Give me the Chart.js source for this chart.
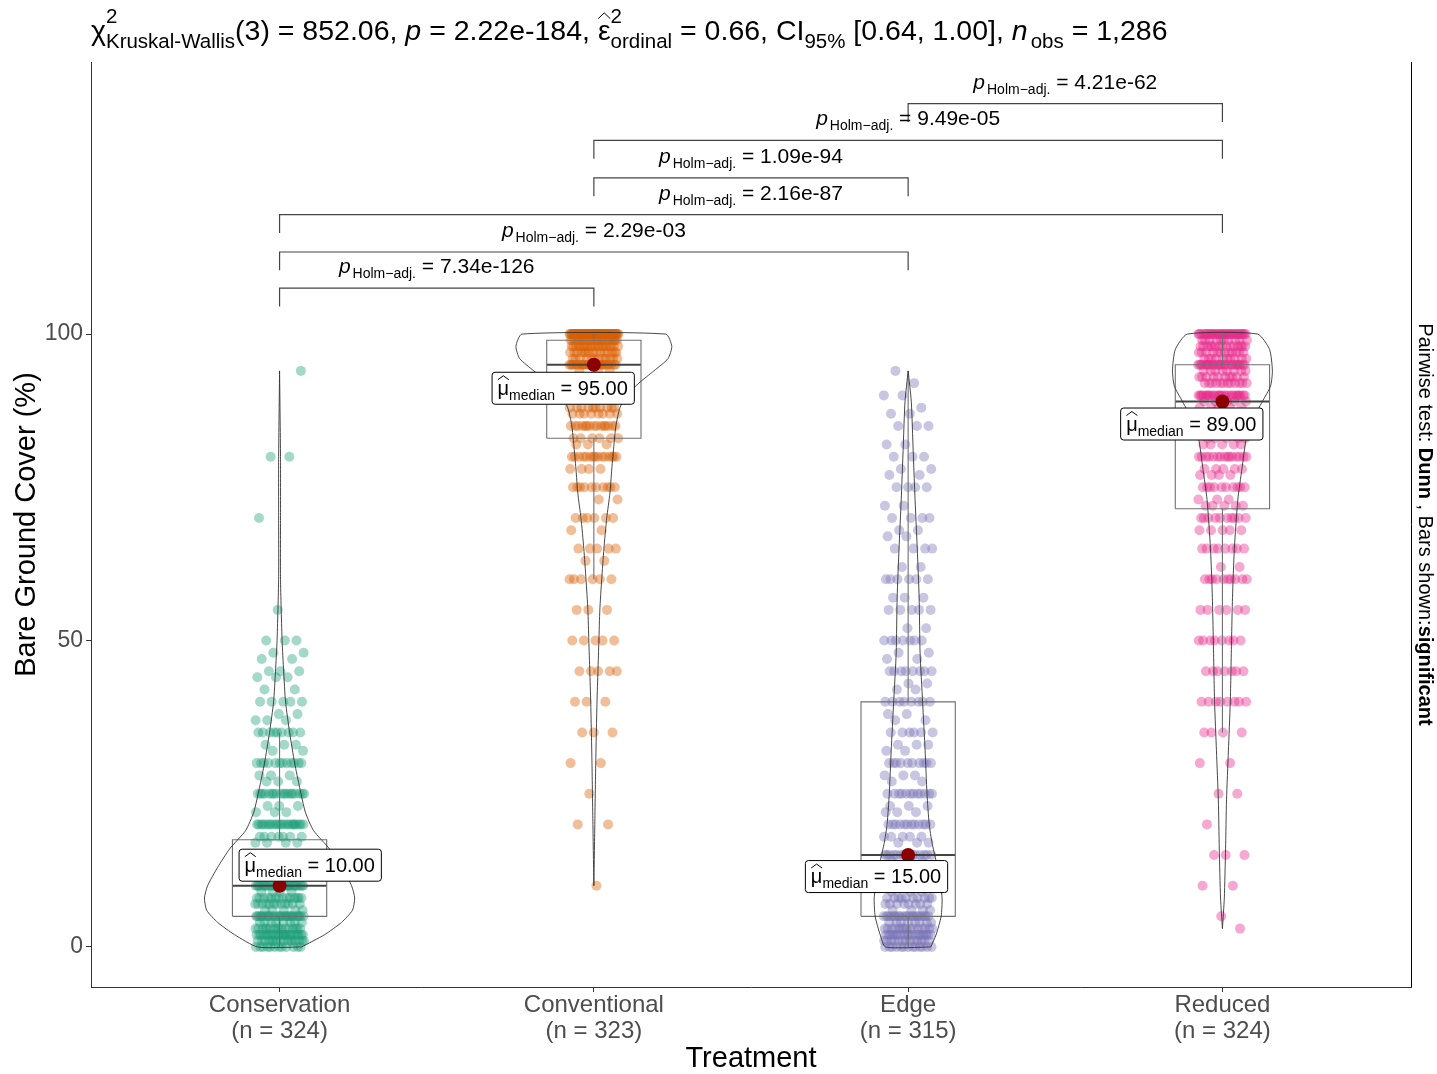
<!DOCTYPE html>
<html>
<head>
<meta charset="utf-8">
<script src="https://cdn.jsdelivr.net/npm/chart.js@4.4.0/dist/chart.umd.min.js"></script>
<style>
  html, body { margin: 0; padding: 0; background: #fff; }
  #wrap { width: 1437px; height: 1074px; }
</style>
</head>
<body>
<div id="wrap"><canvas id="c" width="1437" height="1074"></canvas></div>
<script>
// ---- data ----
const GROUPS  = ['Conservation', 'Conventional', 'Edge', 'Reduced'];
const GROUP_N = [324, 323, 315, 324];
const Y_TICKS = [0, 50, 100];

// observed values and how many points sit on each row
const consVals   = [0, 1, 2, 3, 4, 5, 6, 7, 8, 9, 10, 12, 13, 15, 17, 18, 20, 22, 23, 25, 27, 28, 30, 32, 33, 35, 37, 38, 40, 42, 44, 45, 47, 48, 50, 55, 70, 80, 94];
const consCounts = [12, 16, 22, 16, 8, 28, 5, 12, 14, 4, 28, 14, 4, 22, 4, 7, 22, 3, 3, 18, 3, 3, 12, 2, 3, 9, 3, 2, 5, 2, 3, 3, 2, 2, 3, 1, 1, 2, 1];

const convVals   = [10, 20, 25, 30, 35, 40, 45, 50, 55, 60, 63, 65, 68, 70, 73, 75, 78, 80, 82, 83, 85, 87, 88, 90, 92, 93, 94, 95, 96, 97, 98, 99, 100];
const convCounts = [1, 2, 1, 2, 3, 3, 5, 5, 3, 6, 2, 5, 2, 6, 2, 10, 4, 15, 3, 6, 15, 8, 10, 20, 10, 8, 3, 25, 12, 15, 20, 22, 69];

const edgeVals   = [0, 1, 2, 3, 4, 5, 6, 7, 8, 9, 10, 12, 13, 14, 15, 17, 18, 20, 22, 23, 25, 27, 28, 30, 32, 33, 35, 37, 38, 40, 42, 43, 45, 47, 48, 50, 52, 55, 57, 60, 62, 65, 67, 68, 70, 72, 75, 77, 78, 80, 82, 85, 87, 88, 90, 92, 94];
const edgeCounts = [13, 13, 18, 15, 8, 20, 4, 8, 10, 3, 19, 8, 4, 3, 15, 3, 5, 12, 3, 3, 12, 2, 3, 10, 2, 3, 6, 2, 2, 8, 2, 2, 8, 2, 2, 7, 2, 5, 3, 6, 2, 4, 2, 2, 4, 2, 4, 2, 2, 3, 2, 3, 2, 1, 2, 1, 1];

const redVals    = [3, 5, 10, 15, 20, 25, 30, 35, 40, 45, 50, 55, 60, 62, 65, 68, 70, 72, 73, 75, 77, 78, 80, 82, 83, 85, 87, 88, 89, 90, 92, 93, 94, 95, 96, 97, 98, 99, 100];
const redCounts  = [1, 1, 2, 3, 1, 2, 2, 4, 8, 7, 8, 6, 10, 2, 8, 5, 10, 5, 3, 10, 4, 5, 15, 5, 5, 15, 6, 6, 5, 25, 12, 10, 8, 25, 10, 12, 15, 10, 33];

// box plot statistics
const boxQ1       = [5, 83, 5, 71.5];
const boxMedian   = [10, 95, 15, 89];
const boxQ3       = [17.5, 99, 40, 95];
const whiskerLow  = [0, 60, 0, 35];
const whiskerHigh = [35, 100, 94, 100];

// violin outlines: y level and half width (category units)
const consViolinY = [0, 2, 4, 6, 8, 10, 13, 16, 19, 22, 26, 30, 35, 40, 45, 50, 60, 70, 80, 94];
const consViolinW = [0.07, 0.143, 0.197, 0.232, 0.239, 0.229, 0.197, 0.159, 0.108, 0.082, 0.064, 0.048, 0.032, 0.019, 0.013, 0.008, 0.003, 0.003, 0.003, 0];
const convViolinY = [10, 20, 30, 40, 45, 50, 55, 60, 65, 70, 74, 78, 82, 85, 88, 90, 92, 94, 96, 98, 100];
const convViolinW = [0, 0.003, 0.006, 0.01, 0.013, 0.016, 0.019, 0.025, 0.032, 0.041, 0.051, 0.057, 0.064, 0.07, 0.083, 0.105, 0.143, 0.191, 0.236, 0.248, 0.229];
const edgeViolinY = [0, 2, 5, 8, 11, 14, 17, 20, 25, 32, 40, 48, 57, 65, 73, 81, 89, 94];
const edgeViolinW = [0.072, 0.089, 0.105, 0.108, 0.1, 0.089, 0.076, 0.067, 0.06, 0.054, 0.046, 0.038, 0.035, 0.029, 0.022, 0.016, 0.01, 0];
const redViolinY  = [3, 8, 16, 24, 32, 40, 50, 57, 65, 73, 78, 83, 86, 89, 91.5, 94, 97.5, 100];
const redViolinW  = [0, 0.006, 0.01, 0.013, 0.019, 0.025, 0.029, 0.032, 0.038, 0.049, 0.062, 0.076, 0.096, 0.127, 0.153, 0.159, 0.15, 0.112];

// pairwise comparisons (Dunn, Holm-adjusted)
const pairFrom = [1, 1, 1, 2, 2, 3];
const pairTo   = [2, 3, 4, 3, 4, 4];
const pairY    = [107.5, 113.4, 119.5, 125.5, 131.6, 137.6];
const pairP    = ['7.34e-126', '2.29e-03', '2.16e-87', '1.09e-94', '9.49e-05', '4.21e-62'];

// ---- drawing ----
const FONT = '"Liberation Sans", Arial, Helvetica, sans-serif';
const COLORS = ['27,158,119', '217,95,2', '117,112,179', '231,41,138'];
const JITTER = 0.078;
const BOX_HW = 0.15;
const TIP = 3;

const groupVals   = [consVals, convVals, edgeVals, redVals];
const groupCounts = [consCounts, convCounts, edgeCounts, redCounts];
const violinY     = [consViolinY, convViolinY, edgeViolinY, redViolinY];
const violinW     = [consViolinW, convViolinW, edgeViolinW, redViolinW];

function lineSet(points, color, width, order, tension) {
  return {
    data: points, showLine: true, borderColor: color, borderWidth: width,
    pointRadius: 0, fill: false, tension: tension || 0, order: order
  };
}

const datasets = [];
let k = 0;
groupVals.forEach((vals, g) => {
  const pts = [];
  vals.forEach((v, i) => {
    for (let j = 0; j < groupCounts[g][i]; j++) {
      const off = ((k++ * 0.6180339887 + 0.31) % 1) * 2 - 1;
      pts.push({ x: g + 1 + off * JITTER, y: v });
    }
  });
  datasets.push({
    data: pts, backgroundColor: 'rgba(' + COLORS[g] + ',0.4)',
    borderWidth: 0, pointRadius: 5, order: 10
  });
});

// boxes + whiskers
GROUPS.forEach((_, g) => {
  const c = g + 1;
  datasets.push(lineSet([
    { x: c - BOX_HW, y: boxQ1[g] }, { x: c + BOX_HW, y: boxQ1[g] },
    { x: c + BOX_HW, y: boxQ3[g] }, { x: c - BOX_HW, y: boxQ3[g] },
    { x: c - BOX_HW, y: boxQ1[g] }], '#707070', 1.1, 4));
  datasets.push(lineSet([{ x: c, y: boxQ3[g] }, { x: c, y: whiskerHigh[g] }], '#707070', 1.1, 4));
  datasets.push(lineSet([{ x: c, y: boxQ1[g] }, { x: c, y: whiskerLow[g] }], '#707070', 1.1, 4));
  datasets.push(lineSet([{ x: c - BOX_HW, y: boxMedian[g] }, { x: c + BOX_HW, y: boxMedian[g] }], '#444', 2, 4));
});

// violins
GROUPS.forEach((_, g) => {
  const c = g + 1;
  const right = violinY[g].map((y, i) => ({ x: c + violinW[g][i], y: y }));
  const left = violinY[g].map((y, i) => ({ x: c - violinW[g][i], y: y })).reverse();
  datasets.push(lineSet(right.concat(left, [right[0]]), '#333', 0.9, 3, 0.2));
});

// significance brackets
pairFrom.forEach((a, i) => {
  const b = pairTo[i], y = pairY[i];
  datasets.push(lineSet([
    { x: a, y: y - TIP }, { x: a, y: y }, { x: b, y: y }, { x: b, y: y - TIP }], '#444', 1.2, 2));
});

// medians
datasets.push({
  data: boxMedian.map((m, g) => ({ x: g + 1, y: m })),
  backgroundColor: '#8B0000', borderWidth: 0, pointRadius: 7, order: 0
});

function setFont(ctx, p) {
  ctx.font = (p.italic ? 'italic ' : '') + (p.bold ? 'bold ' : '') + p.size + 'px ' + FONT;
}
function drawHat(ctx, cx, y, w, h) {
  ctx.save();
  ctx.lineWidth = 1;
  ctx.strokeStyle = '#000';
  ctx.beginPath();
  ctx.moveTo(cx - w / 2, y + h);
  ctx.lineTo(cx, y);
  ctx.lineTo(cx + w / 2, y + h);
  ctx.stroke();
  ctx.restore();
}
// draws a run of text pieces with sub/superscripts; returns its width
function richRun(ctx, parts, x, y, draw) {
  let cx = x;
  parts.forEach(p => {
    cx += p.pre || 0;
    setFont(ctx, p);
    if (p.t !== undefined) {
      const w = ctx.measureText(p.t).width;
      if (draw) {
        ctx.fillText(p.t, cx, y);
        if (p.hat) drawHat(ctx, cx + w / 2, y - p.size * 0.95, w * 0.95, p.size * 0.2);
      }
      cx += w;
    } else {
      const ws = p.sup ? ctx.measureText(p.sup).width : 0;
      const wb = p.sub ? ctx.measureText(p.sub).width : 0;
      if (draw) {
        if (p.sup) ctx.fillText(p.sup, cx, y + p.supDy);
        if (p.sub) ctx.fillText(p.sub, cx, y + p.subDy);
      }
      cx += Math.max(ws, wb);
    }
    cx += p.post || 0;
  });
  return cx - x;
}

const TITLE = [
  { t: 'χ', size: 28.5 },
  { sup: '2', sub: 'Kruskal-Wallis', size: 20.5, supDy: -17, subDy: 8 },
  { t: '(3) = 852.06, ', size: 28.5 },
  { t: 'p', size: 28.5, italic: true },
  { t: ' = 2.22e-184, ', size: 28.5 },
  { t: 'ε', size: 28.5, hat: true },
  { sup: '2', sub: 'ordinal', size: 20.5, supDy: -17, subDy: 8 },
  { t: ' = 0.66, CI', size: 28.5 },
  { sub: '95%', size: 20.5, subDy: 8 },
  { t: ' [0.64, 1.00], ', size: 28.5 },
  { t: 'n', size: 28.5, italic: true },
  { sub: 'obs', size: 20.5, subDy: 8, pre: 3 },
  { t: ' = 1,286', size: 28.5 }
];

// label boxes beside the median dots (pixel offsets)
const labelPlace = [
  { dx: -41, dy: -37, align: 'left' },
  { dx: 40, dy: 7, align: 'right' },
  { dx: 39, dy: 5, align: 'right' },
  { dx: 40, dy: 6, align: 'right' }
];

const decor = {
  id: 'decor',
  afterDatasetsDraw(chart) {
    const ctx = chart.ctx, xs = chart.scales.x, ys = chart.scales.y;
    ctx.save();
    ctx.fillStyle = '#000';
    ctx.textBaseline = 'alphabetic';
    // bracket labels
    pairFrom.forEach((a, i) => {
      const parts = [
        { t: 'p', size: 21, italic: true },
        { sub: 'Holm\u2212adj.', size: 14, subDy: 5, pre: 2 },
        { t: ' = ' + pairP[i], size: 21 }
      ];
      const w = richRun(ctx, parts, 0, 0, false);
      const cx = xs.getPixelForValue((a + pairTo[i]) / 2);
      const by = ys.getPixelForValue(pairY[i]) - 15;
      richRun(ctx, parts, cx - w / 2, by, true);
    });
    // median labels
    boxMedian.forEach((m, g) => {
      const parts = [
        { t: 'μ', size: 20, hat: true },
        { sub: 'median', size: 14, subDy: 5 },
        { t: ' = ' + m.toFixed(2), size: 20 }
      ];
      const tw = richRun(ctx, parts, 0, 0, false);
      const bw = tw + 12, bh = 32;
      const px = xs.getPixelForValue(g + 1), py = ys.getPixelForValue(m);
      const pl = labelPlace[g];
      const left = pl.align === 'left' ? px + pl.dx : px + pl.dx - bw;
      const top = py + pl.dy;
      ctx.beginPath();
      ctx.roundRect(left + 0.5, top + 0.5, bw, bh, 3);
      ctx.fillStyle = '#fff';
      ctx.fill();
      ctx.strokeStyle = '#000';
      ctx.lineWidth = 1;
      ctx.stroke();
      ctx.fillStyle = '#000';
      richRun(ctx, parts, left + 6, top + 23, true);
    });
    ctx.restore();
  },
  afterDraw(chart) {
    const ctx = chart.ctx, area = chart.chartArea;
    ctx.save();
    // right frame line
    ctx.strokeStyle = '#000';
    ctx.lineWidth = 1;
    ctx.beginPath();
    ctx.moveTo(area.right + 0.5, area.top);
    ctx.lineTo(area.right + 0.5, area.bottom);
    ctx.stroke();
    ctx.fillStyle = '#000';
    // title
    richRun(ctx, TITLE, 91, 40, true);
    // axis titles
    ctx.font = '29px ' + FONT;
    ctx.textAlign = 'center';
    ctx.textBaseline = 'middle';
    ctx.fillText('Treatment', (area.left + area.right) / 2, 1059);
    ctx.save();
    ctx.translate(27, (area.top + area.bottom) / 2);
    ctx.rotate(-Math.PI / 2);
    ctx.fillText('Bare Ground Cover (%)', 0, 0);
    ctx.restore();
    // right caption
    const cap = [
      { t: 'Pairwise test: ', size: 20 },
      { t: 'Dunn', size: 20, bold: true },
      { t: ' , Bars shown:', size: 20 },
      { t: 'significant', size: 20, bold: true }
    ];
    ctx.textAlign = 'left';
    ctx.textBaseline = 'alphabetic';
    const cw = richRun(ctx, cap, 0, 0, false);
    ctx.translate(1419, (area.top + area.bottom) / 2);
    ctx.rotate(Math.PI / 2);
    richRun(ctx, cap, -cw / 2, 0, true);
    ctx.restore();
  }
};

new Chart(document.getElementById('c'), {
  type: 'scatter',
  data: { datasets: datasets },
  options: {
    responsive: false,
    animation: false,
    layout: { padding: { top: 62, right: 26, left: 0, bottom: 0 } },
    plugins: { legend: { display: false }, tooltip: { enabled: false } },
    scales: {
      x: {
        type: 'linear', min: 0.4, max: 4.6,
        afterBuildTicks: s => { s.ticks = GROUPS.map((_, i) => ({ value: i + 1 })); },
        afterFit: s => { s.height = 87; },
        ticks: {
          color: '#4D4D4D', padding: 0, maxRotation: 0, autoSkip: false,
          font: { family: FONT, size: 24, lineHeight: 1.08 },
          callback: v => {
            const i = Math.round(v) - 1;
            return [GROUPS[i], '(n = ' + GROUP_N[i] + ')'];
          }
        },
        grid: { drawOnChartArea: false, color: '#333', tickLength: 5 },
        border: { color: '#333', width: 1 }
      },
      y: {
        min: -6.53, max: 144.4,
        afterBuildTicks: s => { s.ticks = Y_TICKS.map(v => ({ value: v })); },
        afterFit: s => { s.width = 91; },
        ticks: { color: '#4D4D4D', padding: 3, font: { family: FONT, size: 23 } },
        grid: { drawOnChartArea: false, color: '#333', tickLength: 5 },
        border: { color: '#333', width: 1 }
      }
    }
  },
  plugins: [decor]
});
</script>
</body>
</html>
